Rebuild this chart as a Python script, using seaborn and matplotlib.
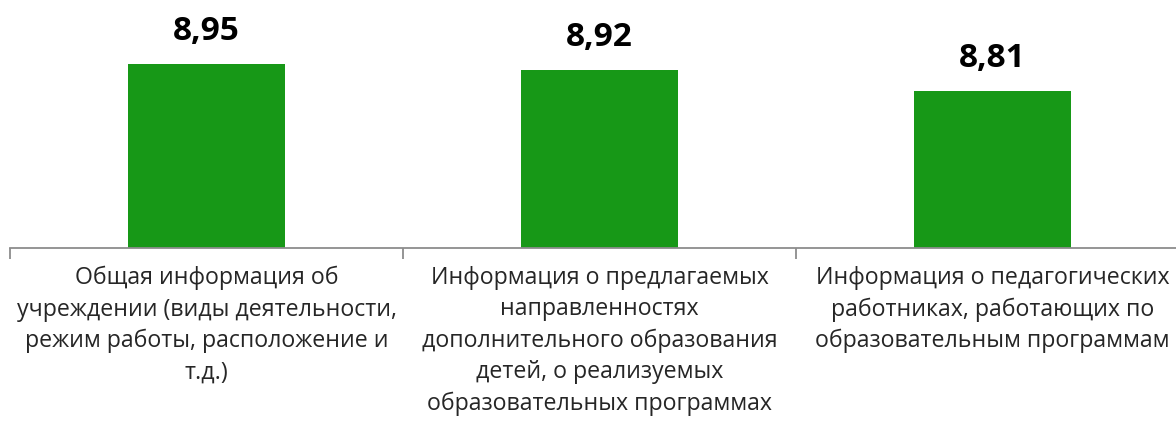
import matplotlib
matplotlib.use("Agg")
import matplotlib.pyplot as plt
import seaborn as sns
import pandas as pd

# data
categories = [
    "Общая информация об\nучреждении (виды деятельности,\nрежим работы, расположение и\nт.д.)",
    "Информация о предлагаемых\nнаправленностях\nдополнительного образования\nдетей, о реализуемых\nобразовательных программах",
    "Информация о педагогических\nработниках, работающих по\nобразовательным программам",
]
scores = [8.95, 8.92, 8.81]
value_labels = ["8,95", "8,92", "8,81"]

df = pd.DataFrame({"category": categories, "score": scores})

sns.set_style("white")
plt.rcParams["font.family"] = ["Open Sans", "DejaVu Sans"]

fig = plt.figure(figsize=(11.76, 4.23), dpi=100)
ax = fig.add_axes([10 / 1176, 175 / 423, 1179 / 1176, 232 / 423])

sns.barplot(data=df, x="category", y="score", color="#179817",
            width=0.4, saturation=1, linewidth=0, ax=ax)

ax.set_ylim(8.0, 9.2)
ax.set_xlim(-0.5, 2.5)
ax.set_xlabel("")
ax.set_ylabel("")
ax.set_yticks([])

for side in ["top", "right", "left"]:
    ax.spines[side].set_visible(False)
ax.spines["bottom"].set_color("#8c8c8c")
ax.spines["bottom"].set_linewidth(1.3)

# category ticks sit between the bars, labels centred under them
ax.set_xticks(range(len(categories)))
ax.set_xticks([-0.5, 0.5, 1.5, 2.5], minor=True)
ax.tick_params(axis="x", which="minor", bottom=True, length=8, width=1.3,
               color="#8c8c8c", direction="out")
ax.tick_params(axis="x", which="major", length=0, pad=13)
ax.set_xticklabels(categories, fontsize=16.7, linespacing=1.4, va="top")

for i, (v, lab) in enumerate(zip(scores, value_labels)):
    ax.text(i, v + 0.085, lab, ha="center", va="bottom", fontsize=24,
            fontweight="bold", color="black")

fig.savefig("out.png", dpi=100)
